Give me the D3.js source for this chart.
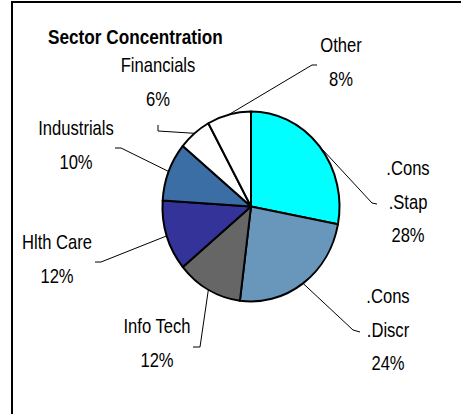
<!DOCTYPE html>
<html>
<head>
<meta charset="utf-8">
<script src="https://cdn.jsdelivr.net/npm/d3@7"></script>
<style>
  html, body { margin: 0; padding: 0; background: #fff; }
  svg { display: block; }
  text { font-family: "Liberation Sans", Arial, sans-serif; fill: #000; }
</style>
</head>
<body>
<svg id="chart" width="461" height="414"></svg>
<script>
// ---- data ----
const title = "Sector Concentration";
const sectors = ["Cons Stap", "Cons Discr", "Info Tech", "Hlth Care", "Industrials", "Financials", "Other"];
const labelLines = [[".Cons", ".Stap"], [".Cons", ".Discr"], ["Info Tech"], ["Hlth Care"], ["Industrials"], ["Financials"], ["Other"]];
const shares = [28, 24, 12, 12, 10, 6, 8];
const sliceColors = ["#00FFFF", "#6897BB", "#666666", "#333399", "#3A6EA5", "#FFFFFF", "#FFFFFF"];

// ---- layout (label anchor positions and leader elbows) ----
const labelLayout = [
  { x: 408, y: 175, elbow: [[372, 203], [377, 204]] },
  { x: 388, y: 303, elbow: [[353, 330], [360, 332]] },
  { x: 157, y: 333, elbow: [[200, 347], [193, 347]] },
  { x: 57,  y: 249, elbow: [[101, 262], [95, 262]] },
  { x: 76,  y: 135, elbow: [[121, 148], [115, 148]] },
  { x: 158, y: 72,  elbow: [[158, 131], [158, 125]] },
  { x: 341, y: 52,  elbow: [[312, 65], [317, 65]] }
];

const svg = d3.select("#chart");
const W = 461, H = 414;
const cx = 251, cy = 206.5, rx = 88.5, ry = 95;
const lineGap = 33.5;
const sx = 0.83; // narrow face

// frame
svg.append("line").attr("x1", 11).attr("x2", W).attr("y1", 2).attr("y2", 2)
  .attr("stroke", "#000").attr("stroke-width", 2);
svg.append("line").attr("x1", 12).attr("x2", 12).attr("y1", 1).attr("y2", H)
  .attr("stroke", "#000").attr("stroke-width", 2);

// title
svg.append("text")
  .attr("transform", `translate(48,44) scale(0.86,1)`)
  .attr("font-size", 20).attr("font-weight", "bold")
  .text(title);

// pie
const pie = d3.pie().sort(null).value(d => d)(shares);
const arc = d3.arc().innerRadius(0).outerRadius(rx);
const g = svg.append("g").attr("transform", `translate(${cx},${cy}) scale(1,${ry / rx})`);
g.selectAll("path").data(pie).join("path")
  .attr("d", arc)
  .attr("fill", (d, i) => sliceColors[i])
  .attr("stroke", "#000")
  .attr("stroke-width", 2)
  .attr("stroke-linejoin", "round")
  .attr("vector-effect", "non-scaling-stroke");

// leader lines
pie.forEach((d, i) => {
  const a = (d.startAngle + d.endAngle) / 2;
  const p0 = [cx + rx * Math.sin(a), cy - ry * Math.cos(a)];
  const pts = [p0].concat(labelLayout[i].elbow);
  svg.append("path")
    .attr("d", d3.line()(pts))
    .attr("fill", "none")
    .attr("stroke", "#000")
    .attr("stroke-width", 1);
});

// labels
pie.forEach((d, i) => {
  const L = labelLayout[i];
  const lines = labelLines[i].concat([shares[i] + "%"]);
  lines.forEach((t, k) => {
    svg.append("text")
      .attr("transform", `translate(${L.x},${L.y + k * lineGap}) scale(${sx},1)`)
      .attr("text-anchor", "middle")
      .attr("font-size", 20)
      .text(t);
  });
});
</script>
</body>
</html>
